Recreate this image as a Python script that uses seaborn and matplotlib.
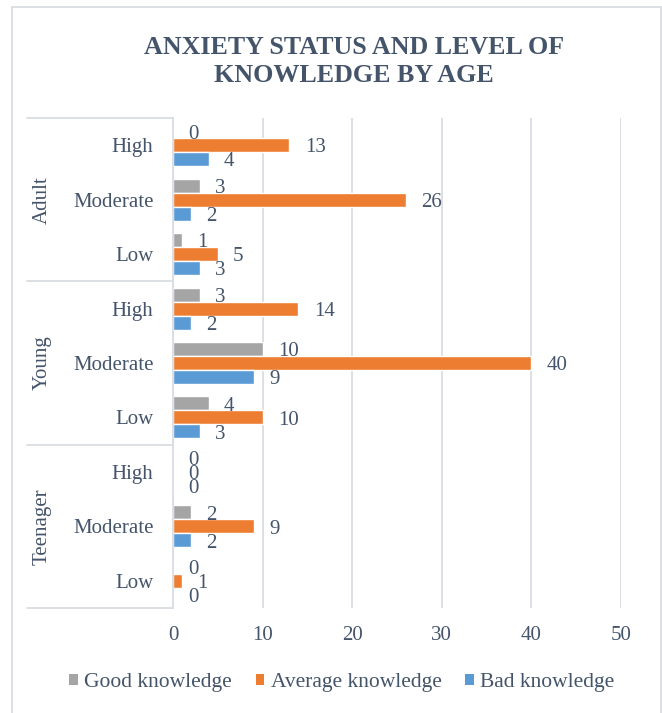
"""
Anxiety status and level of knowledge by age - grouped horizontal bars
"""
import pandas as pd
import numpy as np
import matplotlib.pyplot as plt
import matplotlib.transforms as mtransforms
from matplotlib.patches import Patch, Rectangle
from matplotlib.lines import Line2D
import seaborn as sns

# Data (top to bottom as in the chart)
age_groups = ['Adult', 'Young', 'Teenager']
anxiety_levels = ['High', 'Moderate', 'Low']
series = ['Good knowledge', 'Average knowledge', 'Bad knowledge']
good_knowledge = [0, 3, 1, 3, 10, 4, 0, 2, 0]
average_knowledge = [13, 26, 5, 14, 40, 10, 0, 9, 1]
bad_knowledge = [4, 2, 3, 2, 9, 3, 0, 2, 0]

colors = ['#A5A5A5', '#ED7D31', '#5B9BD5']
text_color = '#44546A'
line_color = '#D9DDE3'

sns.set_style("white")
plt.rcParams['font.family'] = ['Liberation Serif', 'DejaVu Serif']

cats = [f'{g}|{a}' for g in age_groups for a in anxiety_levels]
df = pd.DataFrame({
    'cat': cats * 3,
    'knowledge': np.repeat(series, len(cats)),
    'value': good_knowledge + average_knowledge + bad_knowledge,
})

W, H = 662, 713
fig = plt.figure(figsize=(W / 100, H / 100), dpi=100)
ax = fig.add_axes([173 / W, 1 - 608 / H, (621 - 173) / W, (608 - 118) / H])

sns.barplot(data=df, y='cat', x='value', hue='knowledge', order=cats,
            hue_order=series, palette=colors, orient='h', width=0.77,
            saturation=1, errorbar=None, legend=False, ax=ax)

ax.set_xlim(0, 50)
ax.set_ylim(len(cats) - 0.5, -0.5)
ax.set_xticks(range(0, 51, 10))
ax.grid(axis='x', color=line_color, linewidth=1.3)
ax.grid(axis='y', visible=False)
ax.set_axisbelow(True)
for side in ['top', 'right', 'bottom']:
    ax.spines[side].set_visible(False)
ax.spines['left'].set_color(line_color)
ax.spines['left'].set_linewidth(1.3)
ax.set_xlabel('')
ax.set_ylabel('')
ax.set_yticks(range(len(cats)))
ax.set_yticklabels([c.split('|')[1] for c in cats])
ax.tick_params(axis='y', length=0, pad=14, labelsize=15, labelcolor=text_color)
ax.tick_params(axis='x', length=0, pad=13, labelsize=15, labelcolor=text_color)

# Data labels (nudged down a little, like Excel)
for cont in ax.containers:
    for t in ax.bar_label(cont, fmt='%g', padding=11, fontsize=15, color=text_color):
        t.xyann = (11, -2)

# Group labels and separators on the left
trans = mtransforms.blended_transform_factory(fig.transFigure, ax.transData)
for i, g in enumerate(age_groups):
    ax.text(42 / W, i * 3 + 1, g, transform=trans, rotation=90, ha='center',
            va='center', fontsize=15, color=text_color, clip_on=False)
for yb in [-0.5, 2.5, 5.5, 8.5]:
    ax.add_line(Line2D([27 / W, 173 / W], [yb, yb], transform=trans,
                       color=line_color, linewidth=1.3, clip_on=False))

# Title
fig.text(354 / W, 1 - 61.5 / H, 'ANXIETY STATUS AND LEVEL OF\nKNOWLEDGE BY AGE',
         ha='center', va='center', fontsize=18.7, fontweight='bold',
         color=text_color, linespacing=1.25)

# Legend
handles = [Patch(facecolor=c, edgecolor='none', label=s) for c, s in zip(colors, series)]
leg = fig.legend(handles=handles, loc='center', bbox_to_anchor=(342 / W, 1 - 683 / H),
                 ncol=3, frameon=False, fontsize=15.5, handlelength=0.4,
                 handleheight=0.4, handletextpad=0.3, columnspacing=1.1)
for t in leg.get_texts():
    t.set_color(text_color)

# Chart border
fig.patches.append(Rectangle((12 / W, -0.05), (661 - 12) / W, 1.05 - 7 / H,
                             transform=fig.transFigure, fill=False,
                             edgecolor=line_color, linewidth=1.3))

plt.savefig('out.png', dpi=100)
